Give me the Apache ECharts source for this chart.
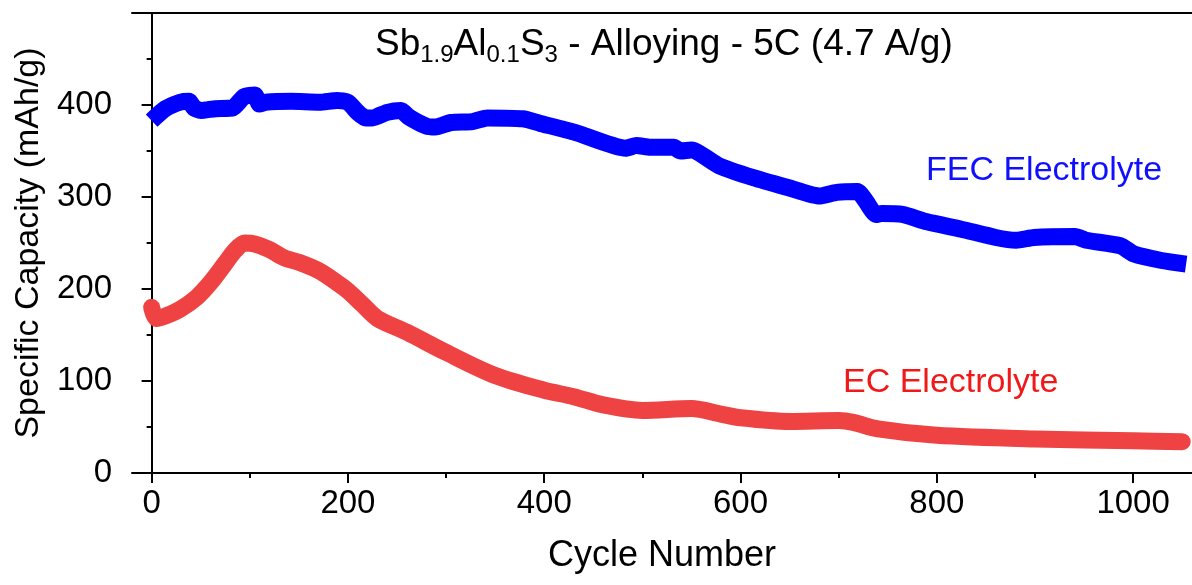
<!DOCTYPE html>
<html>
<head>
<meta charset="utf-8">
<script src="https://cdn.jsdelivr.net/npm/echarts@6/dist/echarts.min.js"></script>
<style>
  html, body { margin: 0; padding: 0; background: #fff; }
  #chart { width: 1192px; height: 585px; }
</style>
</head>
<body>
<div id="chart"></div>
<script>
// FEC electrolyte (blue)
const fecCycles = [0, 14, 29, 38, 43, 50, 65, 83, 94, 105, 110, 116, 142, 171, 189, 200, 210, 218, 225, 240, 254, 262, 280, 289, 305, 327, 342, 378, 396, 432, 483, 494, 508, 532, 539, 550, 578, 613, 649, 680, 698, 719, 728, 738, 744, 765, 790, 825, 860, 881, 899, 941, 952, 987, 1001, 1029, 1054];
const fecCapacity = [383, 396, 403, 404, 397, 394, 396, 397, 409, 411, 401, 403, 404, 403, 405, 403, 392, 386, 386, 392, 394, 387, 377, 376, 381, 382, 386, 385, 380, 370, 353, 356, 354, 354, 350, 351, 334, 321, 310, 301, 305, 306, 295, 281, 282, 281, 273, 265, 256, 253, 256, 257, 253, 247, 238, 231, 227];

// EC electrolyte (red)
const ecCycles = [0, 5, 15, 29, 46, 60, 75, 85, 95, 105, 120, 135, 150, 170, 190, 200, 215, 230, 260, 300, 350, 400, 430, 460, 500, 550, 580, 600, 650, 700, 715, 740, 800, 900, 1000, 1050];
const ecCapacity = [180, 168, 171, 178, 191, 207, 228, 242, 250, 249, 243, 234, 229, 220, 206, 198, 183, 168, 153, 131, 106, 90, 83, 74, 68, 70, 64, 60, 56, 57, 55, 48, 41, 37, 35, 34];

const xTicks = [0, 200, 400, 600, 800, 1000];
const xMinorTicks = [100, 300, 500, 700, 900];
const yTicks = [0, 100, 200, 300, 400];
const yMinorTicks = [50, 150, 250, 350, 450];

const FONT = 'Liberation Sans';
const pairs = (xs, ys) => xs.map((x, i) => [x, ys[i]]);

const chart = echarts.init(document.getElementById('chart'));

const axisLine = { show: true, lineStyle: { color: '#000', width: 2 } };
const plain = v => String(v);

chart.setOption({
    animation: false,
    backgroundColor: '#fff',
    title: {
        left: 375,
        top: 23,
        padding: 0,
        text: '{m|Sb}{s|1.9}{m|Al}{s|0.1}{m|S}{s|3}{m| - Alloying - 5C (4.7 A/g)}',
        textStyle: {
            fontWeight: 'normal',
            rich: {
                m: { fontFamily: FONT, fontSize: 37, fontWeight: 'normal', color: '#000', lineHeight: 44 },
                s: { fontFamily: FONT, fontSize: 24, fontWeight: 'normal', color: '#000', lineHeight: 24, padding: [21, 0, 0, 0] }
            }
        }
    },
    grid: { left: 132, right: 0, top: 13, bottom: 112, outerBoundsMode: 'none' },
    xAxis: [{
        type: 'value', min: -20, max: 1060, position: 'bottom',
        name: 'Cycle Number', nameLocation: 'middle', nameGap: 65,
        nameTextStyle: { fontFamily: FONT, fontSize: 36, color: '#000' },
        axisLine: axisLine,
        axisTick: { show: true, inside: false, length: 10, customValues: xTicks, lineStyle: { color: '#000', width: 2 } },
        axisLabel: { customValues: xTicks, formatter: plain, margin: 14, fontFamily: FONT, fontSize: 33, color: '#000' },
        splitLine: { show: false }
    }, {
        // minor ticks
        type: 'value', min: -20, max: 1060, position: 'bottom',
        axisLine: { show: false },
        axisTick: { show: true, length: 5, customValues: xMinorTicks, lineStyle: { color: '#000', width: 2 } },
        axisLabel: { show: false },
        splitLine: { show: false }
    }, {
        // top frame line
        type: 'value', min: -20, max: 1060, position: 'top',
        axisLine: axisLine,
        axisTick: { show: false }, axisLabel: { show: false }, splitLine: { show: false }
    }],
    yAxis: [{
        type: 'value', min: 0, max: 500, position: 'left',
        name: 'Specific Capacity (mAh/g)', nameLocation: 'middle', nameGap: 86, nameRotate: 90,
        nameTextStyle: { fontFamily: FONT, fontSize: 34, color: '#000' },
        axisLine: axisLine,
        axisTick: { show: true, length: 10, customValues: yTicks, lineStyle: { color: '#000', width: 2 } },
        axisLabel: { customValues: yTicks, formatter: plain, margin: 20, fontFamily: FONT, fontSize: 33, color: '#000' },
        splitLine: { show: false }
    }, {
        type: 'value', min: 0, max: 500, position: 'left',
        axisLine: { show: false },
        axisTick: { show: true, length: 5, customValues: yMinorTicks, lineStyle: { color: '#000', width: 2 } },
        axisLabel: { show: false },
        splitLine: { show: false }
    }],
    series: [{
        name: 'EC Electrolyte', type: 'line', xAxisIndex: 0, yAxisIndex: 0,
        data: pairs(ecCycles, ecCapacity),
        showSymbol: false, smooth: 0.3,
        lineStyle: { color: '#EF4343', width: 17, cap: 'round', join: 'round' }
    }, {
        name: 'FEC Electrolyte', type: 'line', xAxisIndex: 0, yAxisIndex: 0,
        data: pairs(fecCycles, fecCapacity),
        showSymbol: false, smooth: 0.2,
        lineStyle: { color: '#0000FF', width: 17, cap: 'butt', join: 'round' }
    }],
    graphic: [{
        type: 'text', left: 926, top: 154,
        style: { text: 'FEC Electrolyte', fontFamily: FONT, fontSize: 34, fill: '#1010FF' }
    }, {
        type: 'text', left: 843, top: 366,
        style: { text: 'EC Electrolyte', fontFamily: FONT, fontSize: 34, fill: '#F01818' }
    }]
});
</script>
</body>
</html>
